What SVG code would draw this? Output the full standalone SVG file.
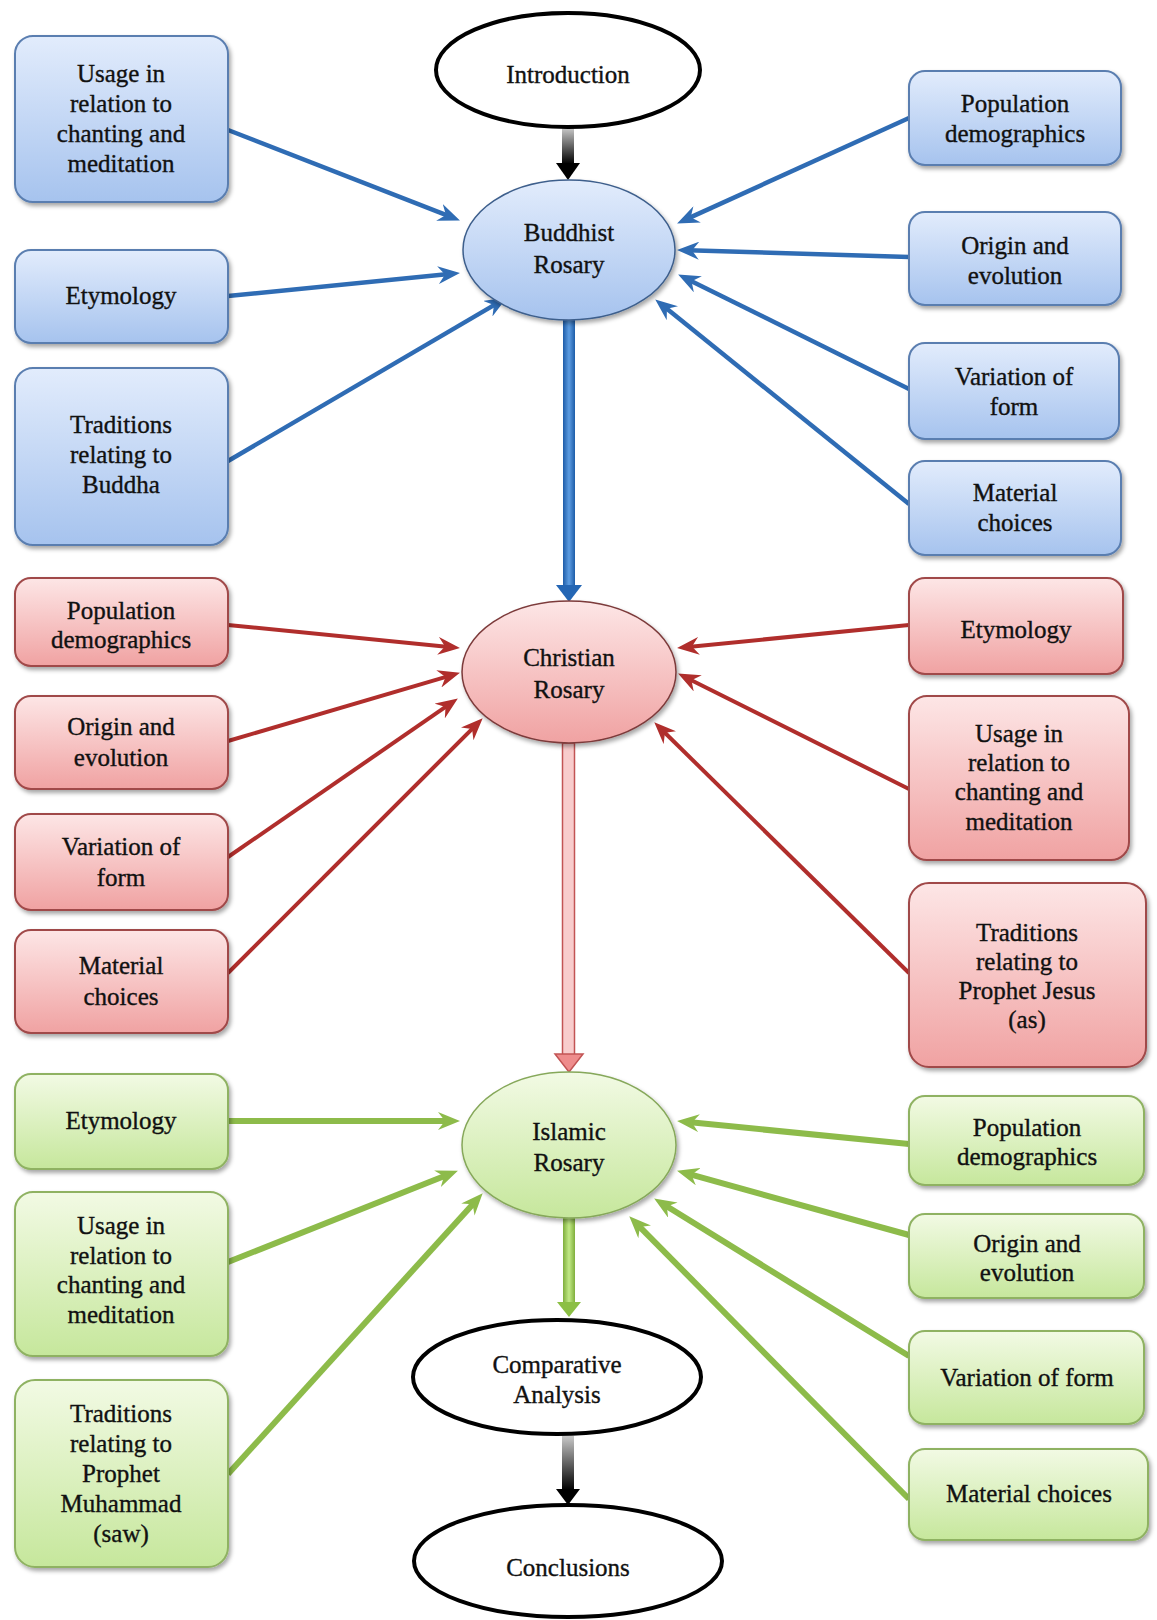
<svg xmlns="http://www.w3.org/2000/svg" width="1157" height="1620" viewBox="0 0 1157 1620">
<defs>
<style>
text{font-family:"Liberation Serif","Times New Roman",serif;font-size:25px;fill:#111;stroke:#111;stroke-width:0.35;text-anchor:middle}
.bb{fill:url(#gB);stroke:#5a7eb0;stroke-width:2}
.rb{fill:url(#gR);stroke:#a04848;stroke-width:2}
.gb{fill:url(#gG);stroke:#8fb262;stroke-width:2}
.oe{fill:#fff;stroke:#000;stroke-width:4}
.bl{stroke:#2f6cb4;stroke-width:4.5;fill:none;marker-end:url(#mB)}
.rl{stroke:#b02e2c;stroke-width:4;fill:none;marker-end:url(#mR)}
.gl{stroke:#8dbb4a;stroke-width:6;fill:none;marker-end:url(#mG)}
</style>
<linearGradient id="gB" x1="0" y1="0" x2="0" y2="1"><stop offset="0" stop-color="#e2ecfc"/><stop offset="1" stop-color="#a6c3ee"/></linearGradient>
<linearGradient id="gR" x1="0" y1="0" x2="0" y2="1"><stop offset="0" stop-color="#fde6e6"/><stop offset="1" stop-color="#f0a2a2"/></linearGradient>
<linearGradient id="gG" x1="0" y1="0" x2="0" y2="1"><stop offset="0" stop-color="#f2fae4"/><stop offset="1" stop-color="#c6e79c"/></linearGradient>
<linearGradient id="gK" x1="0" y1="0" x2="0" y2="1"><stop offset="0" stop-color="#c8c8c8"/><stop offset="1" stop-color="#000"/></linearGradient>
<linearGradient id="gBs" x1="0" y1="0" x2="1" y2="0"><stop offset="0" stop-color="#1d5ca8"/><stop offset="0.5" stop-color="#5d9de2"/><stop offset="1" stop-color="#1d5ca8"/></linearGradient>
<linearGradient id="gGs" x1="0" y1="0" x2="1" y2="0"><stop offset="0" stop-color="#7fae3c"/><stop offset="0.5" stop-color="#c2ea86"/><stop offset="1" stop-color="#7fae3c"/></linearGradient>
<filter id="sh" x="-10%" y="-10%" width="125%" height="130%"><feDropShadow dx="2" dy="3" stdDeviation="2" flood-color="#000" flood-opacity="0.35"/></filter>
<marker id="mB" viewBox="0 0 22 18" refX="11" refY="9" markerWidth="22" markerHeight="18" markerUnits="userSpaceOnUse" orient="auto"><path d="M0,0 L22,9 L0,18 L7,9 z" fill="#2f6cb4"/></marker>
<marker id="mR" viewBox="0 0 22 18" refX="11" refY="9" markerWidth="22" markerHeight="18" markerUnits="userSpaceOnUse" orient="auto"><path d="M0,0 L22,9 L0,18 L7,9 z" fill="#b02e2c"/></marker>
<marker id="mG" viewBox="0 0 22 18" refX="11" refY="9" markerWidth="22" markerHeight="18" markerUnits="userSpaceOnUse" orient="auto"><path d="M0,0 L22,9 L0,18 L7,9 z" fill="#8dbb4a"/></marker>
</defs>
<rect width="1157" height="1620" fill="#fff"/>

<g id="connectors">
<line class="bl" x1="228" y1="130" x2="449.7" y2="216.4"/>
<line class="bl" x1="228" y1="296" x2="449" y2="274"/>
<line class="bl" x1="228" y1="461" x2="497.4" y2="303.1"/>
<line class="bl" x1="909" y1="118" x2="687.1" y2="218.9"/>
<line class="bl" x1="909" y1="257" x2="688" y2="250.3"/>
<line class="bl" x1="909" y1="389" x2="688" y2="279.4"/>
<line class="bl" x1="909" y1="504" x2="663.8" y2="306.3"/>
<line class="rl" x1="228" y1="625" x2="449" y2="647"/>
<line class="rl" x1="228" y1="741" x2="449.4" y2="675.8"/>
<line class="rl" x1="228" y1="857" x2="448.8" y2="704.7"/>
<line class="rl" x1="228" y1="973" x2="474.9" y2="726.1"/>
<line class="rl" x1="909" y1="625" x2="688" y2="647"/>
<line class="rl" x1="909" y1="789" x2="687.9" y2="678.5"/>
<line class="rl" x1="909" y1="973" x2="662.1" y2="730"/>
<line class="gl" x1="228" y1="1121" x2="449" y2="1121"/>
<line class="gl" x1="228" y1="1262" x2="447.7" y2="1174.7"/>
<line class="gl" x1="228" y1="1474" x2="475.3" y2="1201.4"/>
<line class="gl" x1="909" y1="1144" x2="688" y2="1122"/>
<line class="gl" x1="909" y1="1235" x2="687.6" y2="1173.7"/>
<line class="gl" x1="909" y1="1356" x2="663.5" y2="1204.3"/>
<line class="gl" x1="909" y1="1499" x2="637" y2="1224.1"/>
<rect x="562" y="128" width="12" height="36" fill="url(#gK)"/>
<polygon points="556,163 580,163 568,180" fill="#000"/>
<rect x="563" y="320" width="12" height="266" fill="url(#gBs)"/>
<polygon points="556,585 582,585 569,602" fill="#2466b4"/>
<rect x="562.5" y="743" width="12" height="312" fill="#f8cccc" stroke="#c25454" stroke-width="1.5"/>
<polygon points="555,1054 583,1054 569,1072" fill="#ee8c8c" stroke="#c25454" stroke-width="1.5"/>
<rect x="563" y="1218" width="12" height="86" fill="url(#gGs)"/>
<polygon points="557,1302 581,1302 569,1317" fill="#8cbf45"/>
<rect x="562" y="1436" width="12" height="54" fill="url(#gK)"/>
<polygon points="556,1489 580,1489 568,1505" fill="#000"/>
</g>

<g id="intro"><ellipse class="oe" cx="568" cy="70" rx="132" ry="57"/><text x="568" y="83">Introduction</text></g>

<g id="buddhist"><ellipse cx="569" cy="250" rx="106" ry="70" fill="url(#gB)" stroke="#3e5f8c" stroke-width="1.5" filter="url(#sh)"/><text x="569" y="241">Buddhist</text><text x="569" y="273">Rosary</text></g>
<g id="b-usage"><rect class="bb" filter="url(#sh)" x="15" y="36" width="213" height="166" rx="18"/><text x="121" y="82">Usage in</text><text x="121" y="112">relation to</text><text x="121" y="142">chanting and</text><text x="121" y="172">meditation</text></g>
<g id="b-etym"><rect class="bb" filter="url(#sh)" x="15" y="250" width="213" height="93" rx="16"/><text x="121" y="304">Etymology</text></g>
<g id="b-trad"><rect class="bb" filter="url(#sh)" x="15" y="368" width="213" height="177" rx="18"/><text x="121" y="433">Traditions</text><text x="121" y="463">relating to</text><text x="121" y="493">Buddha</text></g>
<g id="b-pop"><rect class="bb" filter="url(#sh)" x="909" y="71" width="212" height="94" rx="16"/><text x="1015" y="112">Population</text><text x="1015" y="142">demographics</text></g>
<g id="b-origin"><rect class="bb" filter="url(#sh)" x="909" y="212" width="212" height="93" rx="16"/><text x="1015" y="254">Origin and</text><text x="1015" y="284">evolution</text></g>
<g id="b-var"><rect class="bb" filter="url(#sh)" x="909" y="343" width="210" height="96" rx="16"/><text x="1014" y="385">Variation of</text><text x="1014" y="415">form</text></g>
<g id="b-mat"><rect class="bb" filter="url(#sh)" x="909" y="461" width="212" height="94" rx="16"/><text x="1015" y="501">Material</text><text x="1015" y="531">choices</text></g>

<g id="christian"><ellipse cx="569" cy="672" rx="107" ry="71" fill="url(#gR)" stroke="#7c3a3a" stroke-width="1.5" filter="url(#sh)"/><text x="569" y="666">Christian</text><text x="569" y="698">Rosary</text></g>
<g id="c-pop"><rect class="rb" filter="url(#sh)" x="15" y="578" width="213" height="88" rx="16"/><text x="121" y="619">Population</text><text x="121" y="648">demographics</text></g>
<g id="c-origin"><rect class="rb" filter="url(#sh)" x="15" y="696" width="213" height="93" rx="16"/><text x="121" y="735">Origin and</text><text x="121" y="766">evolution</text></g>
<g id="c-var"><rect class="rb" filter="url(#sh)" x="15" y="814" width="213" height="96" rx="16"/><text x="121" y="855">Variation of</text><text x="121" y="886">form</text></g>
<g id="c-mat"><rect class="rb" filter="url(#sh)" x="15" y="930" width="213" height="103" rx="16"/><text x="121" y="974">Material</text><text x="121" y="1005">choices</text></g>
<g id="c-etym"><rect class="rb" filter="url(#sh)" x="909" y="578" width="214" height="96" rx="16"/><text x="1016" y="638">Etymology</text></g>
<g id="c-usage"><rect class="rb" filter="url(#sh)" x="909" y="696" width="220" height="164" rx="18"/><text x="1019" y="742">Usage in</text><text x="1019" y="771">relation to</text><text x="1019" y="800">chanting and</text><text x="1019" y="830">meditation</text></g>
<g id="c-trad"><rect class="rb" filter="url(#sh)" x="909" y="883" width="237" height="184" rx="20"/><text x="1027" y="941">Traditions</text><text x="1027" y="970">relating to</text><text x="1027" y="999">Prophet Jesus</text><text x="1027" y="1028">(as)</text></g>

<g id="islamic"><ellipse cx="569" cy="1145" rx="107" ry="73" fill="url(#gG)" stroke="#86a85a" stroke-width="1.5" filter="url(#sh)"/><text x="569" y="1140">Islamic</text><text x="569" y="1171">Rosary</text></g>
<g id="i-etym"><rect class="gb" filter="url(#sh)" x="15" y="1074" width="213" height="95" rx="16"/><text x="121" y="1129">Etymology</text></g>
<g id="i-usage"><rect class="gb" filter="url(#sh)" x="15" y="1192" width="213" height="164" rx="18"/><text x="121" y="1234">Usage in</text><text x="121" y="1264">relation to</text><text x="121" y="1293">chanting and</text><text x="121" y="1323">meditation</text></g>
<g id="i-trad"><rect class="gb" filter="url(#sh)" x="15" y="1380" width="213" height="187" rx="20"/><text x="121" y="1422">Traditions</text><text x="121" y="1452">relating to</text><text x="121" y="1482">Prophet</text><text x="121" y="1512">Muhammad</text><text x="121" y="1542">(saw)</text></g>
<g id="i-pop"><rect class="gb" filter="url(#sh)" x="909" y="1096" width="235" height="89" rx="16"/><text x="1027" y="1136">Population</text><text x="1027" y="1165">demographics</text></g>
<g id="i-origin"><rect class="gb" filter="url(#sh)" x="909" y="1214" width="235" height="84" rx="16"/><text x="1027" y="1252">Origin and</text><text x="1027" y="1281">evolution</text></g>
<g id="i-var"><rect class="gb" filter="url(#sh)" x="909" y="1331" width="235" height="93" rx="16"/><text x="1027" y="1386">Variation of form</text></g>
<g id="i-mat"><rect class="gb" filter="url(#sh)" x="909" y="1449" width="239" height="91" rx="16"/><text x="1029" y="1502">Material choices</text></g>

<g id="comparative"><ellipse class="oe" cx="557" cy="1377" rx="144" ry="57"/><text x="557" y="1373">Comparative</text><text x="557" y="1403">Analysis</text></g>
<g id="conclusions"><ellipse class="oe" cx="568" cy="1561" rx="154" ry="56"/><text x="568" y="1576">Conclusions</text></g>
</svg>
